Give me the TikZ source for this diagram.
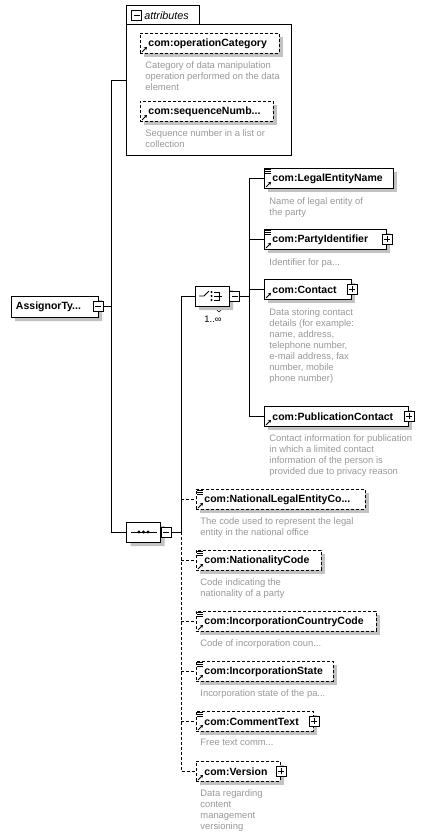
\documentclass[tikz,border=0pt]{standalone}
\usepackage{fontspec}
\setmainfont{Liberation Sans}
\usetikzlibrary{shapes.misc,arrows.meta}
\definecolor{descgray}{HTML}{989898}
\definecolor{shadowgray}{HTML}{C2C2C2}

\newcommand{\namefont}{\fontsize{10.5}{12}\selectfont\bfseries}
\newcommand{\descfont}{\fontsize{9.4}{11}\selectfont\color{descgray}}
\newcommand{\tabfont}{\fontsize{10.8}{12}\selectfont\itshape}

% three lines in the top left corner of a box
\newcommand{\typeicon}[1]{%
  \foreach \dy in {1,3,5}
    \draw[line width=0.7pt] ([xshift=1pt,yshift=-\dy pt]#1.north west) -- ++(6,0);}
% small arrow in the bottom left corner of a box
\newcommand{\refarrow}[1]{%
  \draw[line width=0.9pt, -{Stealth[length=3pt,width=3.5pt]}] ([xshift=2pt,yshift=2pt]#1.south west) -- ++(5,-5);}

\begin{document}
\begin{tikzpicture}[x=1pt, y=-1pt, line width=0.9pt,
  boxshadow/.style={preaction={fill=shadowgray, draw=none, transform canvas={xshift=4pt, yshift=-4pt}}},
  elembox/.style={draw, fill=white, anchor=north west, minimum height=20pt,
    inner xsep=8pt, inner ysep=0pt, align=left, font=\namefont, boxshadow},
  optbox/.style={elembox, dash pattern=on 3pt off 2pt},
  optline/.style={dash pattern=on 3pt off 2pt},
  desc/.style={anchor=north west, inner sep=0pt, align=left, font=\descfont},
  compbox/.style={chamfered rectangle, chamfered rectangle sep=5pt, draw, fill=white,
    minimum width=34pt, minimum height=20pt, inner sep=0pt, boxshadow},
  typebox/.style={chamfered rectangle, chamfered rectangle corners={north west,south west},
    chamfered rectangle sep=3pt, draw, fill=white, anchor=north west,
    minimum width=87pt, minimum height=21pt, inner sep=0pt, boxshadow},
  pmbox/.style={draw, fill=white, minimum size=10pt, inner sep=0pt, line width=0.7pt},
  minusbox/.style={pmbox, path picture={\draw ([xshift=2pt]path picture bounding box.west) -- ([xshift=-2pt]path picture bounding box.east);}},
  plusbox/.style={pmbox, path picture={\draw ([xshift=2pt]path picture bounding box.west) -- ([xshift=-2pt]path picture bounding box.east)
    ([yshift=2pt]path picture bounding box.south) -- ([yshift=-2pt]path picture bounding box.north);}}]

\useasboundingbox (0,0) rectangle (423,836);

% ---------- attributes ----------
\node[draw, anchor=north west, minimum width=165pt, minimum height=131pt, inner sep=0pt] (attr) at (126,24) {};
\draw (attr.north west) -- ++(0,-19) -- ++(73,0) -- ++(0,19);
\node[minusbox] (attr-m) at (136.5,15.5) {};
\node[anchor=west, inner sep=0pt, font=\tabfont] (attr-t) at (144,15.5) {attributes};

\node[optbox, text width=123pt] (opcat) at (140,33) {\mbox{com:operationCategory}};
\refarrow{opcat}
\node[desc] (opcat-d) at (145,61) {Category of data manipulation\\operation performed on the data\\element};

\node[optbox, text width=117pt] (seqnum) at (140,101) {\mbox{com:sequenceNumb...}};
\refarrow{seqnum}
\node[desc] (seqnum-d) at (145,129) {Sequence number in a list or\\collection};

% ---------- type ----------
\node[typebox] (asg) at (11,296) {};
\node[anchor=west, inner sep=0pt, font=\namefont] (asg-t) at ([xshift=5pt]asg.west) {AssignorTy...};
\node[minusbox] (asg-m) at (asg.east) {};

% ---------- sequence ----------
\node[compbox] (seq) at (143.5,532) {};
\draw ([xshift=-13pt]seq.center) -- ([xshift=13pt]seq.center);
\foreach \dx in {-4.5,0,4.5}
  \fill ([xshift=\dx pt]seq.center) circle (1.6pt);
\node[minusbox, anchor=west] (seq-m) at (seq.east) {};

% ---------- choice ----------
\fill[shadowgray] (201,306) rectangle (233,310);
\draw[line width=0.6pt, fill=white] (213,306) -- (219,312) -- (225,306);
\node[compbox] (choice) at (212,296) {};
\draw ([xshift=-13pt]choice.center) -- ([xshift=-8pt]choice.center) -- ([xshift=-3pt,yshift=5pt]choice.center);
\foreach \dy in {-4,0,4}
  \fill ([xshift=-0.5pt,yshift=\dy pt]choice.center) circle (1.1pt);
\draw ([xshift=2pt,yshift=4pt]choice.center) -- ([xshift=7pt,yshift=4pt]choice.center)
  -- ([xshift=7pt,yshift=-4pt]choice.center) -- ([xshift=2pt,yshift=-4pt]choice.center);
\draw ([xshift=2pt]choice.center) -- ([xshift=10pt]choice.center);
\node[minusbox, anchor=west] (choice-m) at (choice.east) {};
\node[anchor=north, inner sep=0pt, font=\fontsize{9.4}{11}\selectfont] (choice-n) at (213,316) {1..∞};

% ---------- choice children ----------
\node[elembox, text width=113pt] (len) at (264,168) {\mbox{com:LegalEntityName}};
\typeicon{len}\refarrow{len}
\node[desc] (len-d) at (269,197) {Name of legal entity of\\the party};

\node[elembox, text width=106pt] (pid) at (264,229) {\mbox{com:PartyIdentifier}};
\typeicon{pid}\refarrow{pid}
\node[plusbox] (pid-p) at (pid.east) {};
\node[desc] (pid-d) at (269,258) {Identifier for pa...};

\node[elembox, text width=71pt] (cnt) at (264,279) {\mbox{com:Contact}};
\refarrow{cnt}
\node[plusbox] (cnt-p) at (cnt.east) {};
\node[desc] (cnt-d) at (269,308) {Data storing contact\\details (for example:\\name, address,\\telephone number,\\e-mail address, fax\\number, mobile\\phone number)};

\node[elembox, text width=128pt] (pub) at (264,406) {\mbox{com:PublicationContact}};
\refarrow{pub}
\node[plusbox] (pub-p) at (pub.east) {};
\node[desc] (pub-d) at (269,434) {Contact information for publication\\in which a limited contact\\information of the person is\\provided due to privacy reason};

% ---------- sequence children ----------
\node[optbox, text width=153pt] (nle) at (196,489) {\mbox{com:NationalLegalEntityCo...}};
\typeicon{nle}\refarrow{nle}
\node[desc] (nle-d) at (200,517) {The code used to represent the legal\\entity in the national office};

\node[optbox, text width=109pt] (nat) at (196,550) {\mbox{com:NationalityCode}};
\typeicon{nat}\refarrow{nat}
\node[desc] (nat-d) at (200,578) {Code indicating the\\nationality of a party};

\node[optbox, text width=164pt] (icc) at (196,611) {\mbox{com:IncorporationCountryCode}};
\typeicon{icc}\refarrow{icc}
\node[desc] (icc-d) at (200,639) {Code of incorporation coun...};

\node[optbox, text width=121pt] (ist) at (196,661) {\mbox{com:IncorporationState}};
\typeicon{ist}\refarrow{ist}
\node[desc] (ist-d) at (200,689) {Incorporation state of the pa...};

\node[optbox, text width=101pt] (cmt) at (196,711) {\mbox{com:CommentText}};
\typeicon{cmt}\refarrow{cmt}
\node[plusbox] (cmt-p) at (cmt.east) {};
\node[desc] (cmt-d) at (200,739) {Free text comm...};

\node[optbox, text width=68pt] (ver) at (196,761) {\mbox{com:Version}};
\refarrow{ver}
\node[plusbox] (ver-p) at (ver.east) {};
\node[desc] (ver-d) at (200,789) {Data regarding\\content\\management\\versioning};

% ---------- connectors ----------
\coordinate (trA) at (111,80);
\coordinate (trB) at (111,532);
\draw (asg-m.east) -- (asg-m.east -| trA);
\draw (trA) -- (trA -| attr.west);
\draw (trA) -- (trB) -- (seq.west);

\coordinate (sqA) at (181,532);
\draw (seq-m.east) -- (sqA) |- (choice.west);
\draw[optline] (sqA) |- (ver.west);
\foreach \n in {nle,nat,icc,ist,cmt}
  \draw[optline] (sqA |- \n.west) -- (\n.west);

\coordinate (chA) at (249,296);
\draw (choice-m.east) -- (chA);
\draw (chA |- len.west) -- (chA |- pub.west) -- (pub.west);
\foreach \n in {len,pid,cnt}
  \draw (chA |- \n.west) -- (\n.west);

\end{tikzpicture}
\end{document}
